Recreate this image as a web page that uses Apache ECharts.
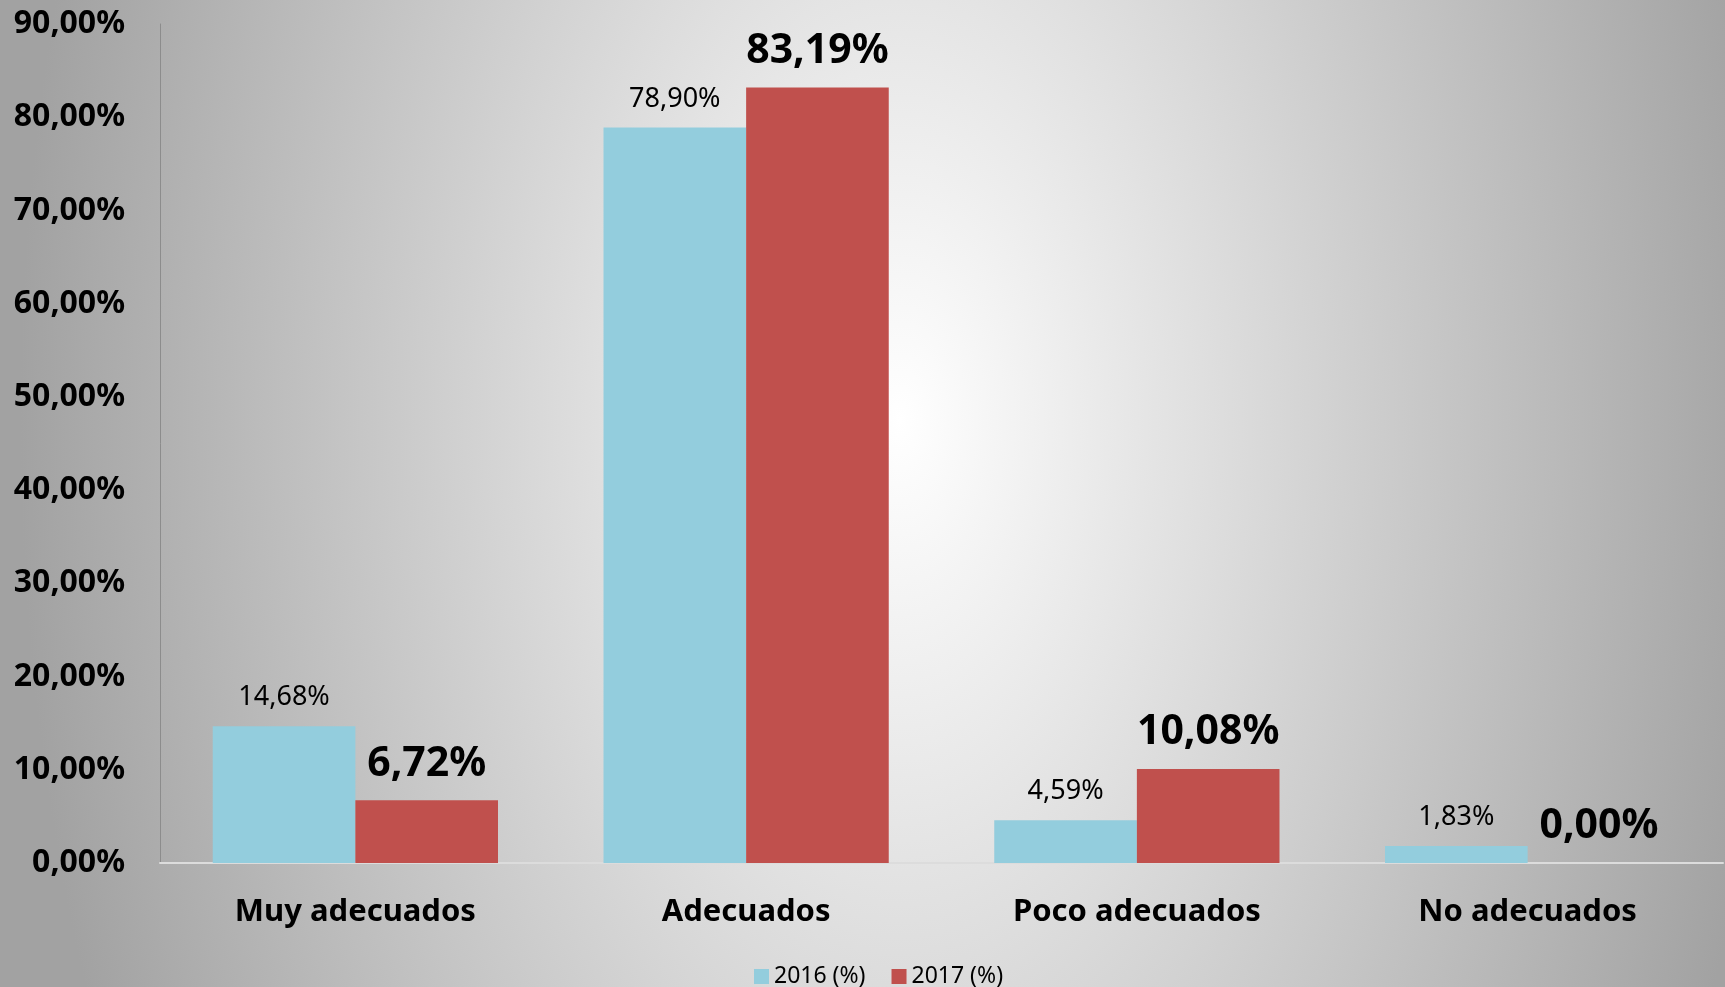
<!DOCTYPE html>
<html>
<head>
<meta charset="utf-8">
<script src="https://cdn.jsdelivr.net/npm/echarts@6/dist/echarts.min.js"></script>
<style>
  html, body { margin: 0; padding: 0; }
  #main {
    width: 1725px;
    height: 987px;
    background: radial-gradient(ellipse 880px 1500px at 900px 420px, #ffffff 0%, #a2a2a2 100%);
  }
</style>
</head>
<body>
<div id="main"></div>
<script>
// categorias y valores (%)
const categories = ['Muy adecuados', 'Adecuados', 'Poco adecuados', 'No adecuados']
const values2016 = [14.68, 78.90, 4.59, 1.83]
const values2017 = [6.72, 83.19, 10.08, 0.00]
const seriesNames = ['2016 (%)', '2017 (%)']

const fmt = (v) => v.toFixed(2).replace('.', ',') + '%'

const myChart = echarts.init(document.getElementById('main'))
const option = {
  backgroundColor: 'transparent',
  textStyle: { fontFamily: 'Noto Sans' },
  legend: {
    data: seriesNames,
    left: 749,
    top: 960,
    icon: 'rect',
    itemWidth: 15,
    itemHeight: 15,
    itemGap: 26,
    textStyle: { fontSize: 23, color: '#000' }
  },
  grid: {
    left: 160,
    right: 2,
    top: 24,
    bottom: 124
  },
  xAxis: {
    type: 'category',
    data: categories,
    axisLine: { lineStyle: { color: '#dcdcdc', width: 2 } },
    axisTick: { show: false },
    axisLabel: {
      fontSize: 31,
      fontWeight: 'bold',
      color: '#000',
      margin: 34
    }
  },
  yAxis: {
    type: 'value',
    min: 0,
    max: 90,
    interval: 10,
    axisLine: { show: true, lineStyle: { color: '#8c8c8c', width: 1 } },
    axisTick: { show: false },
    splitLine: { show: false },
    axisLabel: {
      fontSize: 32,
      fontWeight: 'bold',
      color: '#000',
      margin: 35,
      formatter: fmt
    }
  },
  series: [
    {
      name: seriesNames[0],
      type: 'bar',
      data: values2016,
      barGap: '0%',
      barCategoryGap: '27%',
      itemStyle: { color: '#93CDDD' },
      label: {
        show: true,
        position: 'top',
        distance: 15,
        fontSize: 27,
        color: '#000',
        formatter: (p) => fmt(p.value)
      }
    },
    {
      name: seriesNames[1],
      type: 'bar',
      data: values2017,
      barGap: '0%',
      barCategoryGap: '27%',
      itemStyle: { color: '#C0504D' },
      label: {
        show: true,
        position: 'top',
        distance: 16,
        fontSize: 41,
        fontWeight: 'bold',
        color: '#000',
        formatter: (p) => fmt(p.value)
      }
    }
  ]
}
myChart.setOption(option)
</script>
</body>
</html>
